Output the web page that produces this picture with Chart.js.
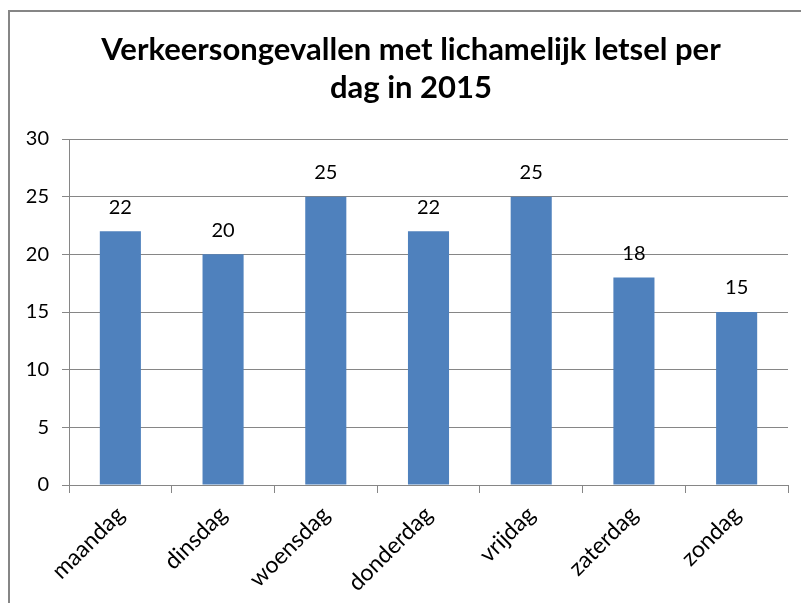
<!DOCTYPE html>
<html>
<head>
<meta charset="utf-8">
<script src="https://cdn.jsdelivr.net/npm/chart.js@4"></script>
<style>
  html, body { margin: 0; padding: 0; background: #fff; }
  #wrap { position: relative; width: 801px; height: 603px; overflow: hidden; }
  #frame { position: absolute; left: 8px; top: 10px; width: 900px; height: 700px; border-left: 2px solid #868686; border-top: 2px solid #868686; }
  canvas { position: absolute; left: 0; top: 0; }
</style>
</head>
<body>
<div id="wrap">
  <div id="frame"></div>
  <canvas id="c" width="801" height="603"></canvas>
</div>
<script>
const categories = ['maandag', 'dinsdag', 'woensdag', 'donderdag', 'vrijdag', 'zaterdag', 'zondag'];
const values = [22, 20, 25, 22, 25, 18, 15];
const titleLines = ['Verkeersongevallen met lichamelijk letsel per', 'dag in 2015'];
const yTicks = [0, 5, 10, 15, 20, 25, 30];

const FONT = 'Lato, "Open Sans", sans-serif';

const valueLabels = {
  id: 'valueLabels',
  afterLayout(chart) {
    const t = chart.titleBlock;
    if (t) { t.left += 12; t.right += 12; }
  },
  afterDatasetsDraw(chart) {
    const ctx = chart.ctx;
    const meta = chart.getDatasetMeta(0);
    ctx.save();
    ctx.font = '20px ' + FONT;
    ctx.fillStyle = '#000';
    ctx.textAlign = 'center';
    ctx.textBaseline = 'middle';
    meta.data.forEach((bar, i) => {
      ctx.fillText(String(values[i]), bar.x, bar.y - 24);
    });
    ctx.restore();
  }
};

new Chart(document.getElementById('c'), {
  type: 'bar',
  data: {
    labels: categories,
    datasets: [{
      data: values,
      backgroundColor: '#4F81BD',
      borderWidth: 0,
      barPercentage: 0.4,
      categoryPercentage: 1.0
    }]
  },
  options: {
    responsive: false,
    animation: false,
    devicePixelRatio: 1,
    layout: { padding: { left: 10, right: 13, top: 0, bottom: 0 } },
    plugins: {
      legend: { display: false },
      tooltip: { enabled: false },
      title: {
        display: true,
        text: titleLines,
        color: '#000',
        font: { family: FONT, size: 31, weight: 'bold', lineHeight: 1.226 },
        padding: { top: 31, bottom: 32 }
      }
    },
    scales: {
      x: {
        afterFit(scale) { scale.height = 118; },
        grid: { display: true, drawOnChartArea: false, drawTicks: true, tickLength: 8, color: '#868686', lineWidth: 1, offset: true },
        border: { display: true, color: '#868686', width: 1 },
        ticks: {
          color: '#000',
          font: { family: FONT, size: 23 },
          minRotation: 45,
          maxRotation: 45,
          padding: 8
        }
      },
      y: {
        min: 0,
        max: 30,
        afterFit(scale) { scale.width = 59; },
        afterBuildTicks(scale) { scale.ticks = yTicks.map(v => ({ value: v })); },
        grid: { color: '#868686', lineWidth: 1, tickLength: 7, drawTicks: true },
        border: { display: true, color: '#868686', width: 1 },
        ticks: {
          color: '#000',
          font: { family: FONT, size: 20 },
          padding: 13
        }
      }
    }
  },
  plugins: [valueLabels]
});
</script>
</body>
</html>
